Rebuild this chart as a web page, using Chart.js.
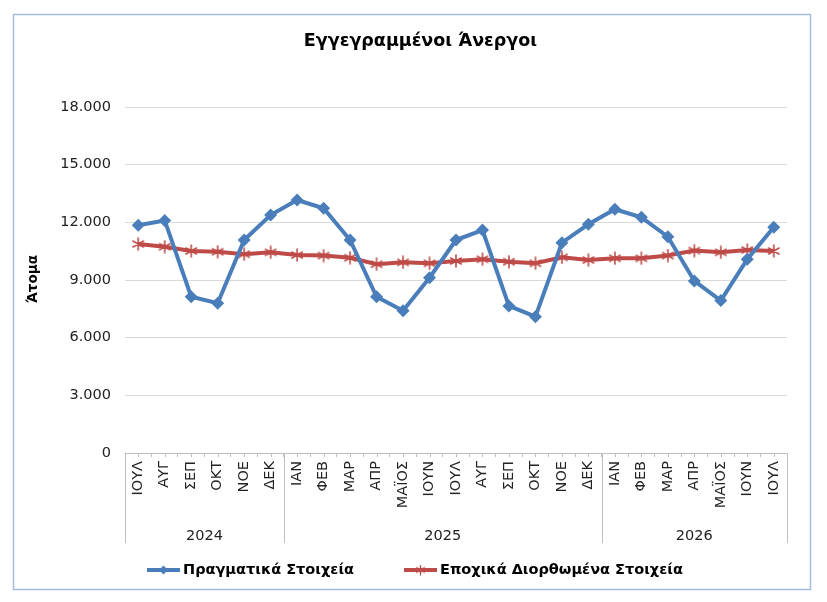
<!DOCTYPE html>
<html>
<head>
<meta charset="utf-8">
<script src="https://cdn.jsdelivr.net/npm/chart.js@4"></script>
<style>
html,body{margin:0;padding:0;background:#fff;}
canvas{display:block;}
</style>
</head>
<body>
<canvas id="c" width="827" height="602"></canvas>
<script>
const chartTitle = 'Εγγεγραμμένοι Άνεργοι';
const yAxisTitle = 'Άτομα';
const months = ['ΙΟΥΛ','ΑΥΓ','ΣΕΠ','ΟΚΤ','ΝΟΕ','ΔΕΚ','ΙΑΝ','ΦΕΒ','ΜΑΡ','ΑΠΡ','ΜΑΪΟΣ','ΙΟΥΝ','ΙΟΥΛ','ΑΥΓ','ΣΕΠ','ΟΚΤ','ΝΟΕ','ΔΕΚ','ΙΑΝ','ΦΕΒ','ΜΑΡ','ΑΠΡ','ΜΑΪΟΣ','ΙΟΥΝ','ΙΟΥΛ'];
const years = ['2024','2025','2026'];
const yearMonthCounts = [6, 12, 7];
const seriesNames = ['Πραγματικά Στοιχεία', 'Εποχικά Διορθωμένα Στοιχεία'];
const actualValues = [11850,12100,8130,7790,11080,12380,13160,12730,11080,8130,7400,9120,11080,11600,7650,7090,10940,11900,12680,12260,11250,8950,7930,10080,11740];
const seasonalValues = [10870,10730,10510,10470,10340,10440,10300,10270,10160,9820,9920,9870,9990,10080,9950,9870,10180,10040,10130,10130,10270,10530,10440,10560,10510];
const yTicks = [0,3000,6000,9000,12000,15000,18000];

const BLUE = '#4A7EBB';
const RED = '#BE4B48';

function makeAsterisk(size, color, lw) {
  const c = document.createElement('canvas');
  c.width = size; c.height = size;
  const g = c.getContext('2d');
  g.strokeStyle = color; g.lineWidth = lw; g.lineCap = 'round';
  const m = size / 2, r = size / 2 - 1;
  g.beginPath();
  g.moveTo(m, m - r); g.lineTo(m, m + r);
  const dx = r * Math.cos(Math.PI / 6), dy = r * Math.sin(Math.PI / 6);
  g.moveTo(m - dx, m - dy); g.lineTo(m + dx, m + dy);
  g.moveTo(m - dx, m + dy); g.lineTo(m + dx, m - dy);
  g.stroke();
  return c;
}
const asterisk = makeAsterisk(14, RED, 1.6);
const asteriskSmall = makeAsterisk(11, RED, 1.4);

function fmt(v) {
  return String(v).replace(/\B(?=(\d{3})+(?!\d))/g, '.');
}

const decor = {
  id: 'decor',
  beforeDraw(chart) {
    const ctx = chart.ctx;
    ctx.save();
    ctx.fillStyle = '#fff';
    ctx.fillRect(0, 0, chart.width, chart.height);
    ctx.restore();
  },
  afterDraw(chart) {
    const ctx = chart.ctx;
    const x = chart.scales.x;
    const area = chart.chartArea;
    ctx.save();
    // frame
    ctx.strokeStyle = '#A5BEDD';
    ctx.lineWidth = 1.5;
    ctx.strokeRect(13.5, 14.5, 797, 575);
    // title
    ctx.fillStyle = '#000';
    ctx.font = 'bold 17.5px "DejaVu Sans"';
    ctx.textAlign = 'center';
    ctx.textBaseline = 'middle';
    ctx.fillText(chartTitle, 420.5, 41);
    // y title
    ctx.save();
    ctx.translate(33, 279);
    ctx.rotate(-Math.PI / 2);
    ctx.font = 'bold 13.5px "DejaVu Sans"';
    ctx.fillText(yAxisTitle, 0, 0);
    ctx.restore();
    // center ticks
    ctx.strokeStyle = '#BFBFBF';
    ctx.lineWidth = 1;
    for (let i = 0; i < months.length; i++) {
      const px = Math.round(x.getPixelForValue(i)) + 0.5;
      ctx.beginPath();
      ctx.moveTo(px, area.bottom);
      ctx.lineTo(px, area.bottom + 4);
      ctx.stroke();
    }
    // year groups
    const half = (x.getPixelForValue(1) - x.getPixelForValue(0)) / 2;
    let start = 0;
    const bounds = [area.left];
    ctx.font = '14.5px "DejaVu Sans"';
    ctx.fillStyle = '#222';
    ctx.textAlign = 'center';
    ctx.textBaseline = 'middle';
    years.forEach((yr, gi) => {
      const end = start + yearMonthCounts[gi] - 1;
      const l = x.getPixelForValue(start) - half;
      const r = x.getPixelForValue(end) + half;
      bounds.push(r);
      ctx.fillText(yr, (l + r) / 2, 536);
      start = end + 1;
    });
    bounds.forEach(b => {
      const px = Math.round(b) + 0.5;
      ctx.beginPath();
      ctx.moveTo(px, area.bottom);
      ctx.lineTo(px, 543);
      ctx.stroke();
    });
    // legend
    const items = [
      {x0: 147, x1: 180, color: BLUE, marker: 'diamond', text: seriesNames[0]},
      {x0: 404, x1: 437, color: RED, marker: 'star', text: seriesNames[1]}
    ];
    const ly = 570;
    ctx.font = 'bold 14.5px "DejaVu Sans"';
    ctx.textAlign = 'left';
    items.forEach(it => {
      ctx.strokeStyle = it.color;
      ctx.lineWidth = 4;
      ctx.lineCap = 'butt';
      ctx.beginPath();
      ctx.moveTo(it.x0, ly);
      ctx.lineTo(it.x1, ly);
      ctx.stroke();
      const mx = (it.x0 + it.x1) / 2;
      if (it.marker === 'diamond') {
        ctx.fillStyle = it.color;
        ctx.beginPath();
        ctx.moveTo(mx, ly - 4.5);
        ctx.lineTo(mx + 4.5, ly);
        ctx.lineTo(mx, ly + 4.5);
        ctx.lineTo(mx - 4.5, ly);
        ctx.closePath();
        ctx.fill();
      } else {
        ctx.drawImage(asteriskSmall, mx - 5.5, ly - 5.5);
      }
      ctx.fillStyle = '#000';
      ctx.fillText(it.text, it.x1 + 3, ly + 0.5);
    });
    ctx.restore();
  }
};

new Chart(document.getElementById('c'), {
  type: 'line',
  data: {
    labels: months,
    datasets: [
      {
        label: seriesNames[0],
        data: actualValues,
        borderColor: BLUE,
        backgroundColor: BLUE,
        borderWidth: 4,
        pointStyle: 'rectRot',
        pointRadius: 6.5,
        pointBorderWidth: 0,
        pointBackgroundColor: BLUE,
        tension: 0
      },
      {
        label: seriesNames[1],
        data: seasonalValues,
        borderColor: RED,
        backgroundColor: RED,
        borderWidth: 4,
        pointStyle: asterisk,
        tension: 0
      }
    ]
  },
  options: {
    responsive: false,
    animation: false,
    devicePixelRatio: 1,
    layout: { padding: { top: 107, right: 40, left: 0, bottom: 0 } },
    plugins: {
      legend: { display: false },
      title: { display: false },
      tooltip: { enabled: false }
    },
    scales: {
      x: {
        type: 'category',
        offset: true,
        grid: { offset: true, drawOnChartArea: false, drawTicks: true, tickLength: 4, color: '#BFBFBF' },
        border: { display: true, color: '#BFBFBF', width: 1 },
        ticks: {
          autoSkip: false, minRotation: 90, maxRotation: 90, padding: 4,
          color: '#222', font: { family: 'DejaVu Sans', size: 14.5 }
        },
        afterFit(s) { s.height = 149; }
      },
      y: {
        min: 0, max: 18000,
        afterBuildTicks(s) { s.ticks = yTicks.map(v => ({ value: v })); },
        grid: { color: '#D9D9D9', drawTicks: false, lineWidth: 1 },
        border: { display: false },
        ticks: {
          padding: 14, color: '#222',
          font: { family: 'DejaVu Sans', size: 14.5 },
          callback: v => fmt(v)
        },
        afterFit(s) { s.width = 125; }
      }
    }
  },
  plugins: [decor]
});
</script>
</body>
</html>
